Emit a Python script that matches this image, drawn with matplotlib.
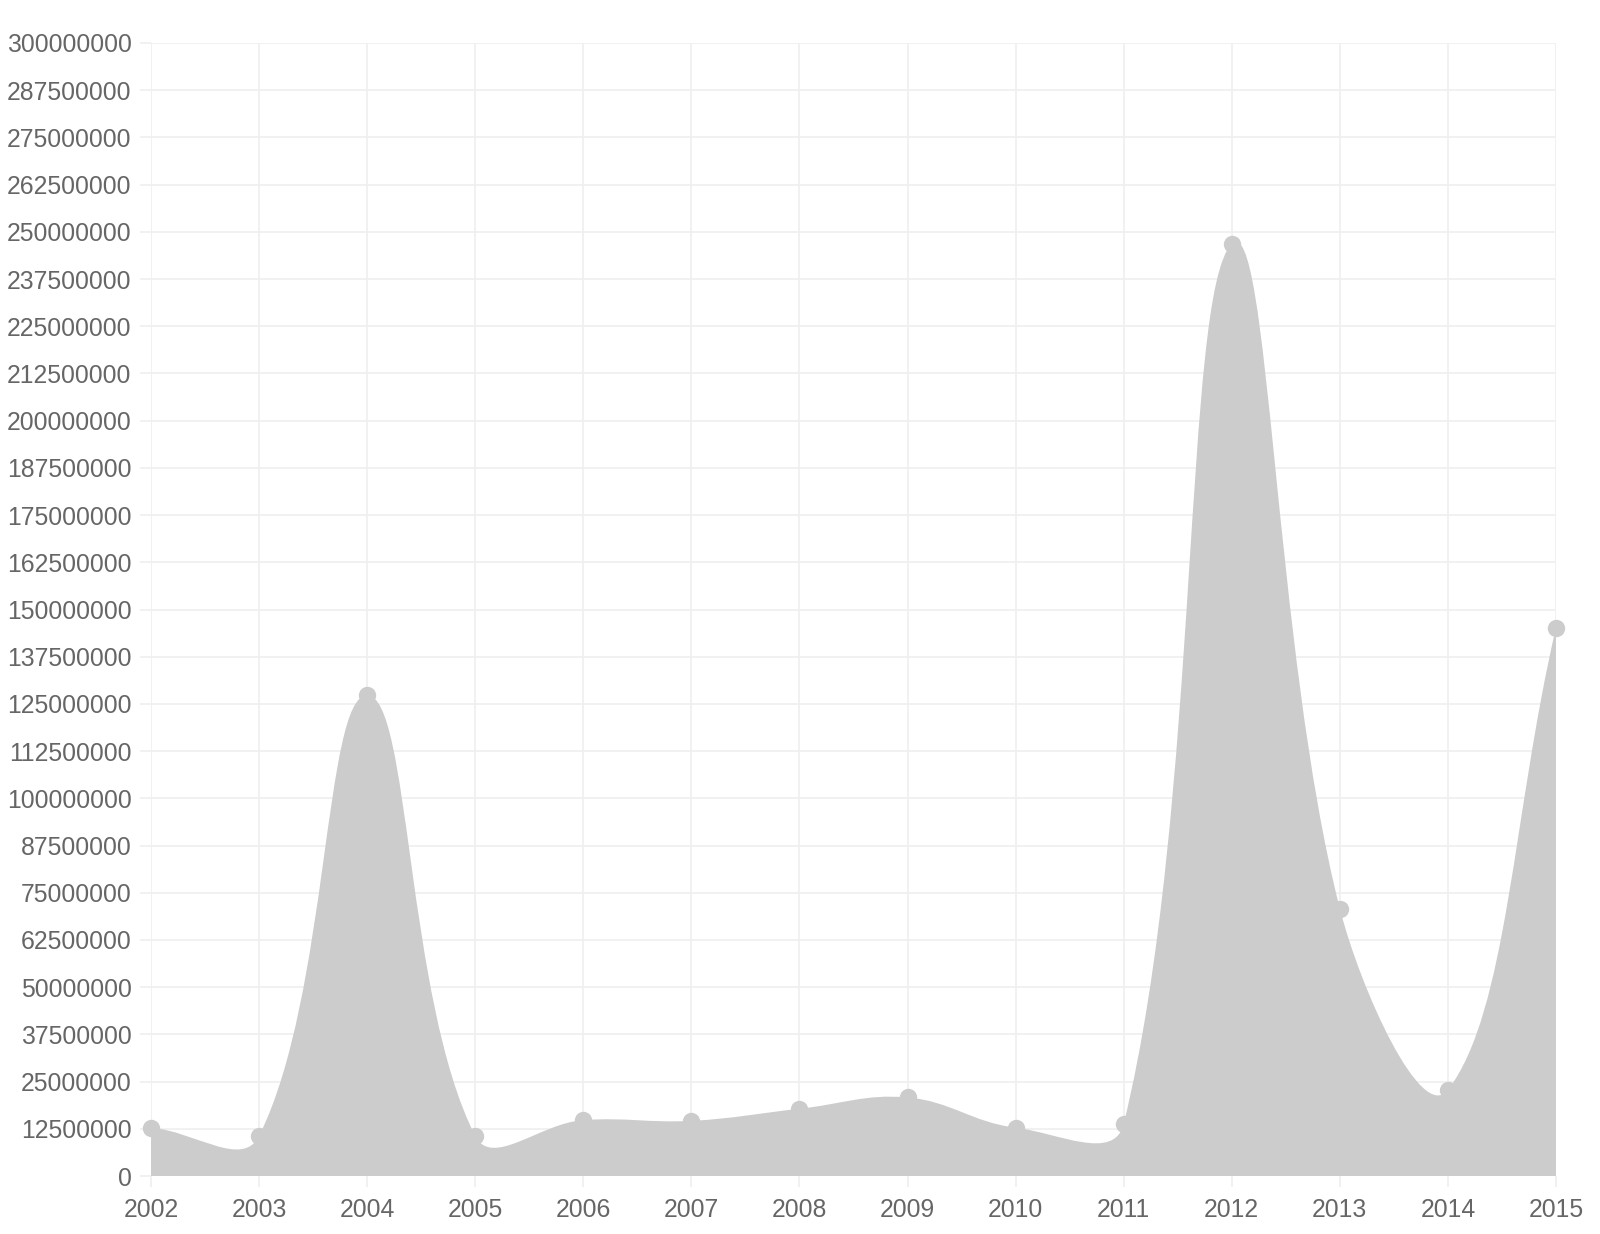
import numpy as np
import matplotlib
matplotlib.use('Agg')
import matplotlib.pyplot as plt
from matplotlib.path import Path
from matplotlib.patches import PathPatch
from matplotlib.ticker import MultipleLocator, FuncFormatter

years = [2002, 2003, 2004, 2005, 2006, 2007, 2008, 2009,
         2010, 2011, 2012, 2013, 2014, 2015]
values = [12800000, 10600000, 127300000, 10600000, 14800000, 14600000,
          17800000, 20800000, 12800000, 13800000, 246800000, 70800000,
          22800000, 145200000]

fill_color = '#cccccc'
grid_color = '#efefef'
text_color = '#666666'
tension = 0.4

plt.rcParams['font.family'] = ['Liberation Sans', 'DejaVu Sans']

fig = plt.figure(figsize=(16, 12.34), dpi=100)
ax = fig.add_axes([151 / 1600, (1234 - 1176) / 1234, 1405 / 1600, 1133 / 1234])
ax.set_xlim(years[0], years[-1])
ax.set_ylim(0, 300000000)


def spline_controls(pts, t, lo, hi):
    # bezier control points computed in pixel space, like a canvas chart does
    ctrl = []
    n = len(pts)
    for i in range(n):
        prev = pts[max(i - 1, 0)]
        cur = pts[i]
        nxt = pts[min(i + 1, n - 1)]
        d01 = np.hypot(*(cur - prev))
        d12 = np.hypot(*(nxt - cur))
        tot = d01 + d12
        s01 = d01 / tot if tot else 0
        s12 = d12 / tot if tot else 0
        before = cur - t * s01 * (nxt - prev)
        after = cur + t * s12 * (nxt - prev)
        ctrl.append((np.clip(before, lo, hi), np.clip(after, lo, hi)))
    return ctrl


to_px = ax.transData
to_data = ax.transData.inverted()
pts = to_px.transform(np.column_stack([years, values]))
corner_a = to_px.transform((years[0], 0))
corner_b = to_px.transform((years[-1], 300000000))
lo = np.minimum(corner_a, corner_b)
hi = np.maximum(corner_a, corner_b)
ctrl = spline_controls(pts, tension, lo, hi)

verts = [pts[0]]
codes = [Path.MOVETO]
for i in range(1, len(pts)):
    verts += [ctrl[i - 1][1], ctrl[i][0], pts[i]]
    codes += [Path.CURVE4] * 3
verts = list(to_data.transform(np.array(verts)))
verts += [(years[-1], 0), (years[0], 0), (years[0], values[0])]
codes += [Path.LINETO, Path.LINETO, Path.CLOSEPOLY]

ax.add_patch(PathPatch(Path(verts, codes), facecolor=fill_color,
                       edgecolor='none', zorder=2))
ax.plot(years, values, linestyle='none', marker='o', markersize=11.5,
        color=fill_color, zorder=3, clip_on=False)

ax.xaxis.set_major_locator(MultipleLocator(1))
ax.xaxis.set_major_formatter(FuncFormatter(lambda v, p: f'{int(round(v))}'))
ax.yaxis.set_major_locator(MultipleLocator(12500000))
ax.yaxis.set_major_formatter(FuncFormatter(lambda v, p: f'{int(round(v))}'))

ax.grid(True, color=grid_color, linewidth=1.2, zorder=0)
ax.set_axisbelow(True)
for s in ax.spines.values():
    s.set_visible(False)
ax.tick_params(axis='both', length=8, width=1.2, color=grid_color,
               labelcolor=text_color, labelsize=17.8)
ax.tick_params(axis='y', pad=6)
ax.tick_params(axis='x', pad=8)

fig.savefig('out.png', dpi=100, facecolor='white')
